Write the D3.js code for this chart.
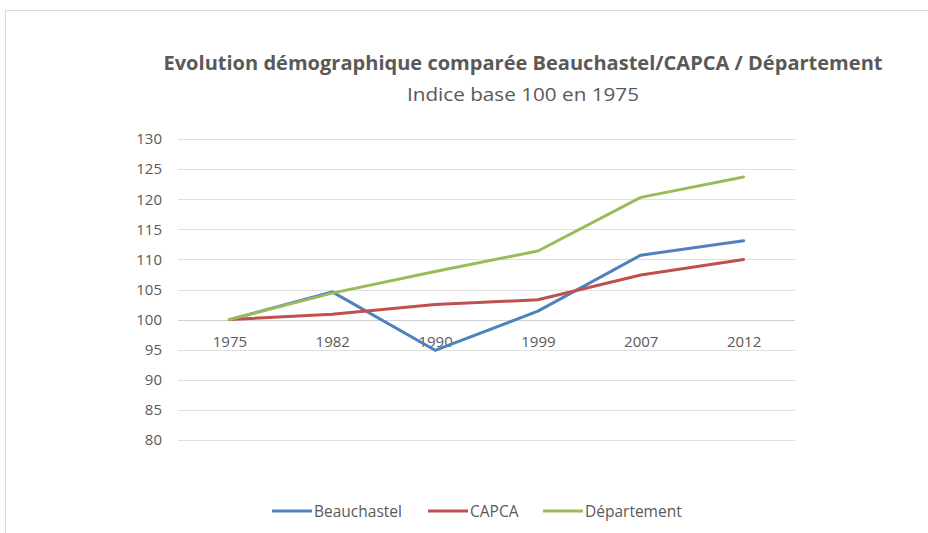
<!DOCTYPE html>
<html>
<head>
<meta charset="utf-8">
<script src="https://cdn.jsdelivr.net/npm/d3@7"></script>
<style>
  body { margin: 0; background: #fff; }
  text { font-family: "Open Sans", "Noto Sans", sans-serif; fill: #595959; }
</style>
</head>
<body>
<div class="chart"></div>
<script>
// data
var years = ["1975", "1982", "1990", "1999", "2007", "2012"];
var beauchastel = [100, 104.6, 94.9, 101.4, 110.7, 113.1];
var capca = [100, 100.9, 102.5, 103.3, 107.4, 110.0];
var departement = [100, 104.4, 108.0, 111.4, 120.3, 123.7];
var yTicks = [80, 85, 90, 95, 100, 105, 110, 115, 120, 125, 130];

var seriesNames = ["Beauchastel", "CAPCA", "Département"];
var seriesColors = ["#4F81BD", "#C0504D", "#9BBB59"];

var svgWidth = 928;
var svgHeight = 533;

var svg = d3.select(".chart")
    .append("svg")
    .attr("width", svgWidth)
    .attr("height", svgHeight);

// chart border
svg.append("rect")
    .attr("x", 5.5)
    .attr("y", 10.5)
    .attr("width", 940)
    .attr("height", 540)
    .attr("fill", "none")
    .attr("stroke", "#d9d9d9");

// title
svg.append("text")
    .attr("x", 523)
    .attr("y", 70)
    .attr("text-anchor", "middle")
    .style("font-size", "19px")
    .style("font-weight", "bold")
    .attr("textLength", 719)
    .attr("lengthAdjust", "spacingAndGlyphs")
    .text("Evolution démographique  comparée Beauchastel/CAPCA / Département");

svg.append("text")
    .attr("x", 523)
    .attr("y", 101)
    .attr("text-anchor", "middle")
    .style("font-size", "18px")
    .attr("textLength", 232)
    .attr("lengthAdjust", "spacingAndGlyphs")
    .text("Indice base 100 en 1975");

var x = d3.scalePoint()
    .domain(years)
    .range([178, 795])
    .padding(0.5);

var y = d3.scaleLinear()
    .domain([80, 130])
    .range([440, 139]);

// gridlines
svg.append("g")
    .selectAll("line")
    .data(yTicks)
    .enter()
    .append("line")
    .attr("x1", 178)
    .attr("x2", 795)
    .attr("y1", d => Math.round(y(d)) + 0.5)
    .attr("y2", d => Math.round(y(d)) + 0.5)
    .attr("stroke", d => d === 100 ? "#d0d0d0" : "#e0e0e0")
    .attr("stroke-width", 1);

// y axis labels
var yAxis = svg.append("g")
    .attr("transform", "translate(178,0)")
    .call(d3.axisLeft(y).tickValues(yTicks).tickSize(0).tickPadding(16));
yAxis.select(".domain").remove();
yAxis.selectAll("text")
    .style("font-size", "15px")
    .style("fill", "#595959")
    .style("font-family", "\"Open Sans\", sans-serif");

// category axis crossing at 100
var xAxis = svg.append("g")
    .attr("transform", `translate(0,${y(100)})`)
    .call(d3.axisBottom(x).tickSize(0).tickPadding(17));
xAxis.select(".domain").remove();
xAxis.selectAll("text")
    .style("font-size", "15px")
    .style("fill", "#595959")
    .style("font-family", "\"Open Sans\", sans-serif");

// lines
var allSeries = [beauchastel, capca, departement];
var line = d3.line()
    .x((d, i) => x(years[i]))
    .y(d => y(d));

svg.append("g")
    .selectAll("path")
    .data(allSeries)
    .enter()
    .append("path")
    .attr("d", d => line(d))
    .attr("fill", "none")
    .attr("stroke", (d, i) => seriesColors[i])
    .attr("stroke-width", 3)
    .attr("stroke-linejoin", "round")
    .attr("stroke-linecap", "round");

// legend
var legendX = [272, 428, 543];
var legend = svg.append("g")
    .selectAll("g")
    .data(seriesNames)
    .enter()
    .append("g")
    .attr("transform", (d, i) => `translate(${legendX[i]}, 511)`);

legend.append("line")
    .attr("x1", 0)
    .attr("x2", 40)
    .attr("y1", 0)
    .attr("y2", 0)
    .attr("stroke", (d, i) => seriesColors[i])
    .attr("stroke-width", 3);

legend.append("text")
    .attr("x", 42)
    .attr("y", 5.5)
    .style("font-size", "15.5px")
    .text(d => d);
</script>
</body>
</html>
